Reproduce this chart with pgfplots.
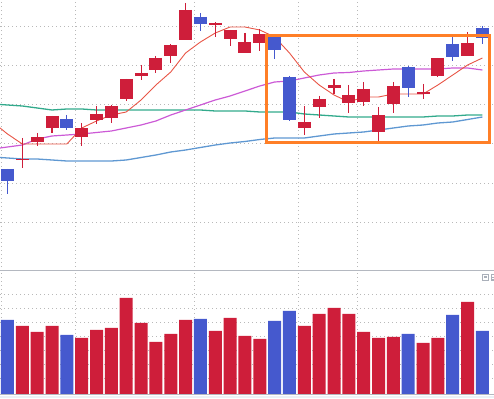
\documentclass[border=0pt]{standalone}
\usepackage{pgfplots}
\pgfplotsset{compat=1.18}
\usepackage{pgfplotstable}

\definecolor{cred}{RGB}{206,30,58}
\definecolor{cblue}{RGB}{69,89,206}
\definecolor{mared}{RGB}{232,85,70}
\definecolor{mamag}{RGB}{204,90,214}
\definecolor{mateal}{RGB}{50,170,140}
\definecolor{mablue}{RGB}{95,152,210}
\definecolor{orng}{RGB}{255,127,39}
\definecolor{gridc}{RGB}{185,185,185}
\definecolor{sepc}{RGB}{180,184,192}
\definecolor{stripc}{RGB}{236,241,246}
\definecolor{iconc}{RGB}{170,176,186}

% up candles (red): index, open, high, low, close
\pgfplotstableread{
i o h l c
1 111 133 103 112
2 129 138 125 134
3 143 155 138 155
5 134 148 125 143
6 151 165 147 157
7 153 166 148 165
8 172 192 170 192
9 195 206 191 198
10 201 215 198 213
11 215 227 208 226
12 231 268 231 261
14 246 249 234 248
15 232 241 225 241
16 218 238 218 229
17 228 242 220 237
20 143 165 136 149
21 164 175 153 172
22 183 192 177 186
23 168 186 158 176
24 169 189 165 182
25 139 164 130 156
26 167 189 158 185
28 177 187 172 179
29 195 213 194 213
31 215 239 215 228
}\upc

% down candles (blue)
\pgfplotstableread{
i o h l c
0 102 102 77 90
4 152 156 141 143
13 254 258 240 247
18 234 236 212 221
19 194 195 150 151
27 204 205 174 183
30 227 234 210 214
32 243 245 227 233
}\downc

% moving averages
\pgfplotstableread{
i a b t s
-1 149 122 167 114
0 137 124 166 113
1 127 126 165 112
2 127 132 163 112
3 127 135 161 111
4 127 136 162 110
5 143 137 162 110
6 150 138.5 161 110
7 156 140 161 110
8 159 143 161 111
9 171 146 161 113.5
10 186 150 161 116
11 199 156 161 119
12 218 161 161 121
13 229 166 161 123.5
14 238 171 160 126
15 244 175 160 128
16 244 180 160 129.5
17 241 185 159 131.5
18 234 189 159 133
19 218 190 159 133
20 199 193 157 133
21 186 196 156 135
22 176 198 155 137
23 169 198.5 154 138
24 174 200 154 139
25 174 201 154 141
26 177 202 154 143
27 177 202 154 145
28 177 202 154 146
29 186 202 155 148
30 196 203 155 149
31 206 203 156 151.5
32 213 201 156 154
}\ma

\pgfplotstableread{
i v
1 68
2 62
3 68
5 56
6 64
7 66
8 96
9 71
10 52
11 60
12 74
14 63
15 76
16 58
17 55
20 68
21 80
22 86
23 80
24 62
25 56
26 57
28 51
29 56
31 92
}\volup

\pgfplotstableread{
i v
0 74
4 59
13 75
18 73
19 83
27 60
30 79
32 63
}\voldown

\pgfplotsset{
  body/.style={draw=none, mark=none, forget plot,
    error bars/.cd, y dir=minus, y explicit, error mark=none,
    error bar style={line width=13pt, draw=#1, solid}},
  wick/.style={draw=none, mark=none, forget plot,
    error bars/.cd, y dir=minus, y explicit, error mark=none,
    error bar style={line width=1.1pt, draw=#1, solid}},
  pane/.style={scale only axis, width=494pt,
    xmin=-0.505, xmax=32.78,
    axis line style={draw=none}, major tick length=0pt,
    xtick={-0.42,4.58,12.59,19.58,23.58},
    xticklabels={}, yticklabels={},
    grid=major,
    major grid style={gridc, line width=1pt, dash pattern=on 1pt off 3pt}},
}

\begin{document}
\begin{tikzpicture}
\path[use as bounding box] (0,0) rectangle (494pt,398pt);
\fill[stripc] (0,0) rectangle (494pt,2.5pt);

\begin{axis}[pane, at={(0pt,127pt)}, anchor=south west, height=271pt,
  ymin=0, ymax=271, ytick={48,87,127,166,205,244}]
  \addplot[mablue, line width=1.3pt, mark=none] table[x=i,y=s]{\ma};
  \addplot[mateal, line width=1.3pt, mark=none] table[x=i,y=t]{\ma};
  \addplot[mamag, line width=1.2pt, mark=none] table[x=i,y=b]{\ma};
  \addplot[mared, line width=0.9pt, mark=none] table[x=i,y=a]{\ma};

  \addplot[wick=cred] table[x=i, y=h, y error expr=\thisrow{h}-\thisrow{l}]{\upc};
  \addplot[body=cred] table[x=i, y=c, y error expr=\thisrow{c}-\thisrow{o}]{\upc};
  \addplot[wick=cblue] table[x=i, y=h, y error expr=\thisrow{h}-\thisrow{l}]{\downc};
  \addplot[body=cblue] table[x=i, y=o, y error expr=\thisrow{o}-\thisrow{c}]{\downc};

  \draw[orng, line width=3pt] (axis cs:17.45,128.2) rectangle (axis cs:32.47,235.2);
\end{axis}

\begin{axis}[pane, at={(0pt,4pt)}, anchor=south west, height=123pt,
  ymin=0, ymax=123, ytick={15.7,29.6,43.5,57.4,71.3,85.2,99.1}]
  \addplot[ybar, bar width=13pt, bar shift=0pt, fill=cred, draw=none] table[x=i,y=v]{\volup};
  \addplot[ybar, bar width=13pt, bar shift=0pt, fill=cblue, draw=none] table[x=i,y=v]{\voldown};
\end{axis}

\draw[sepc, line width=1pt] (0,127pt) -- (494pt,127pt);
\draw[sepc, line width=1pt] (0,3.2pt) -- (494pt,3.2pt);
\draw[iconc, line width=1pt] (482.2pt,117.8pt) rectangle (488.2pt,123.8pt);
\fill[iconc] (484pt,119.5pt) rectangle (486.5pt,121.5pt);
\fill[iconc] (490.5pt,117.3pt) rectangle (494pt,124.3pt);
\fill[white] (492pt,119pt) rectangle (494pt,120.3pt);
\fill[white] (492pt,121.3pt) rectangle (494pt,122.6pt);
\end{tikzpicture}
\end{document}
